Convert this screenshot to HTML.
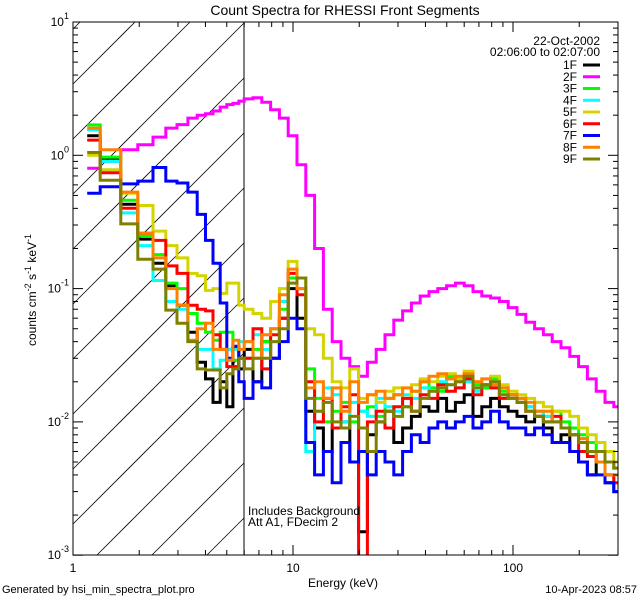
<!DOCTYPE html>
<html><head><meta charset="utf-8"><style>
html,body{margin:0;padding:0;background:#fff;width:640px;height:600px;overflow:hidden;}
svg{display:block;font-family:"Liberation Sans","DejaVu Sans",sans-serif;}
</style></head><body>
<svg id="chart" width="640" height="600" viewBox="0 0 640 600" overflow="hidden">
<defs><clipPath id="plotclip"><rect x="73" y="22" width="545" height="533"/></clipPath></defs>
<rect x="0" y="0" width="640" height="600" fill="#fff"/>
<text x="345" y="15" font-size="14" text-anchor="middle">Count Spectra for RHESSI Front Segments</text>
<g id="hatch"></g>
<line x1="244" y1="22" x2="244" y2="555" stroke="#000" stroke-width="1"/>
<g id="series" clip-path="url(#plotclip)"></g>
<g id="axes"></g>
<text x="343" y="587" font-size="12" text-anchor="middle">Energy (keV)</text>
<text transform="translate(36,290) rotate(-90)" font-size="12" text-anchor="middle">counts cm<tspan font-size="9" dy="-5">-2</tspan><tspan dy="5"> s</tspan><tspan font-size="9" dy="-5">-1</tspan><tspan dy="5"> keV</tspan><tspan font-size="9" dy="-5">-1</tspan></text>
<text x="248" y="515" font-size="12">Includes Background</text>
<text x="248" y="526" font-size="12">Att A1, FDecim 2</text>
<text x="2" y="593" font-size="11">Generated by hsi_min_spectra_plot.pro</text>
<text x="637" y="593" font-size="11" text-anchor="end">10-Apr-2023 08:57</text>
<text x="600" y="45" font-size="12" text-anchor="end">22-Oct-2002</text>
<text x="600" y="56" font-size="12" text-anchor="end">02:06:00 to 02:07:00</text>
<g id="legend"></g>
</svg>
<script>
const names = ["1F","2F","3F","4F","5F","6F","7F","8F","9F"];
const colors = ["#000000","#ff00ff","#00ff00","#00ffff","#d4d400","#ff0000","#0000ff","#ff8000","#808000"];
const lowEdges = [1.16,1.33,1.65,1.97,2.31,2.64,2.97,3.33,3.67,4.0,4.33,4.67,5.0,5.33,5.67,6.0];
const s1F = [1.4,0.95,0.43,0.235,0.155,0.105,0.075,0.047,0.028,0.021,0.014,0.02,0.013,0.036,0.025,
 0.035,0.02,0.04,0.03,0.06,0.1,0.06,0.012,0.009,0.006,0.009,0.01,0.005,0.0015,0.008,0.01,0.012,0.007,0.009,0.011,0.013,0.012,0.015,0.012,0.014,0.016,0.011,0.013,0.015,0.013,0.012,0.011,0.01,0.011,0.009,0.007,0.008,0.006,0.005,0.004,0.005,0.0035,0.003];
const s2F = [0.8,0.9,1.1,1.2,1.37,1.6,1.7,1.9,2.0,2.05,2.15,2.3,2.4,2.45,2.55,
 2.65,2.7,2.5,2.2,1.9,1.4,0.85,0.5,0.2,0.07,0.04,0.03,0.026,0.022,0.028,0.035,0.045,0.058,0.068,0.078,0.088,0.095,0.1,0.105,0.11,0.105,0.095,0.088,0.085,0.08,0.072,0.064,0.056,0.05,0.045,0.04,0.036,0.031,0.026,0.021,0.017,0.014,0.013];
const s3F = [1.69,0.97,0.46,0.25,0.18,0.11,0.1,0.065,0.055,0.047,0.041,0.047,0.047,0.029,0.03,
 0.03,0.035,0.04,0.05,0.07,0.12,0.1,0.025,0.015,0.01,0.012,0.014,0.01,0.012,0.013,0.011,0.015,0.016,0.013,0.017,0.02,0.018,0.017,0.022,0.02,0.023,0.019,0.018,0.021,0.017,0.015,0.015,0.013,0.012,0.011,0.012,0.01,0.009,0.008,0.007,0.006,0.005,0.0045];
const s4F = [1.55,0.9,0.37,0.21,0.115,0.08,0.07,0.04,0.035,0.035,0.025,0.029,0.035,0.035,0.04,
 0.04,0.045,0.035,0.04,0.08,0.11,0.1,0.006,0.012,0.018,0.016,0.01,0.014,0.012,0.011,0.015,0.013,0.012,0.016,0.015,0.018,0.017,0.02,0.019,0.018,0.02,0.017,0.019,0.018,0.016,0.015,0.014,0.013,0.012,0.011,0.01,0.009,0.008,0.007,0.006,0.005,0.004,0.003];
const s5F = [1.0,0.78,0.52,0.42,0.27,0.21,0.17,0.13,0.125,0.097,0.1,0.092,0.11,0.11,0.075,
 0.07,0.065,0.06,0.08,0.1,0.16,0.12,0.05,0.045,0.03,0.02,0.018,0.025,0.015,0.016,0.014,0.017,0.018,0.015,0.019,0.021,0.02,0.022,0.023,0.021,0.024,0.02,0.021,0.022,0.019,0.017,0.016,0.015,0.014,0.013,0.012,0.012,0.011,0.009,0.008,0.007,0.006,0.005];
const s6F = [1.3,0.74,0.40,0.26,0.23,0.148,0.13,0.075,0.07,0.068,0.045,0.035,0.026,0.026,0.03,
 0.03,0.05,0.025,0.045,0.06,0.13,0.09,0.02,0.01,0.015,0.009,0.013,0.016,0.0008,0.01,0.012,0.009,0.013,0.015,0.012,0.016,0.015,0.019,0.017,0.018,0.021,0.016,0.019,0.018,0.015,0.016,0.014,0.012,0.011,0.01,0.011,0.009,0.008,0.006,0.0055,0.005,0.004,0.0035];
const s7F = [0.52,0.58,0.61,0.64,0.81,0.64,0.62,0.53,0.36,0.23,0.155,0.078,0.03,0.037,0.02,
 0.015,0.02,0.018,0.03,0.04,0.06,0.05,0.007,0.004,0.006,0.0035,0.007,0.005,0.006,0.004,0.006,0.005,0.004,0.006,0.008,0.007,0.009,0.01,0.009,0.01,0.011,0.009,0.01,0.012,0.01,0.009,0.009,0.008,0.009,0.008,0.007,0.007,0.006,0.005,0.004,0.004,0.0035,0.003];
const s8F = [1.6,1.1,0.53,0.26,0.17,0.1,0.075,0.041,0.05,0.055,0.035,0.035,0.029,0.041,0.035,
 0.04,0.03,0.045,0.05,0.09,0.14,0.1,0.018,0.02,0.015,0.018,0.012,0.02,0.014,0.016,0.017,0.015,0.016,0.018,0.017,0.02,0.022,0.023,0.021,0.022,0.023,0.02,0.021,0.019,0.018,0.016,0.015,0.014,0.012,0.012,0.01,0.009,0.008,0.0075,0.006,0.005,0.004,0.004];
const s9F = [1.05,0.65,0.306,0.166,0.14,0.069,0.055,0.04,0.025,0.0245,0.0245,0.018,0.023,0.025,0.03,
 0.025,0.03,0.03,0.04,0.05,0.11,0.12,0.015,0.012,0.014,0.01,0.009,0.011,0.009,0.006,0.01,0.012,0.011,0.013,0.012,0.015,0.017,0.018,0.019,0.02,0.022,0.018,0.019,0.02,0.016,0.015,0.014,0.012,0.011,0.01,0.01,0.009,0.008,0.007,0.006,0.006,0.005,0.0045];
const seriesData = [s1F,s2F,s3F,s4F,s5F,s6F,s7F,s8F,s9F];
const yTickExps = [1,0,-1,-2,-3];
const xTickLabels = ["1","10","100"];

const NS="http://www.w3.org/2000/svg";
const X0=73, DEC=220, YTOP=22, YDEC=133.3, YBOT=555, XR=618, XH=244;
function xs(e){return X0+DEC*Math.log10(e);}
function ys(v){return YTOP+YDEC*(1-Math.log10(Math.max(v,1e-4)));}
function mk(tag,attrs,parent){const e=document.createElementNS(NS,tag);for(const k in attrs)e.setAttribute(k,attrs[k]);parent.appendChild(e);return e;}

const edges = lowEdges.slice();
for(let k=1;k<=43;k++) edges.push(Math.pow(10,Math.log10(6)+0.04*k));

// hatch: lines y = c - (x - X0), clipped analytically to the box [X0,XH]x[YTOP,YBOT]
const hatch=document.getElementById('hatch');
for(let n=-1;n<13;n++){
  const c=84+55*n;
  let xa=X0, xb=XH;
  xa=Math.max(xa, X0+c-YBOT);
  xb=Math.min(xb, X0+c-YTOP);
  if(xb<=xa) continue;
  const l=mk('line',{x1:xa,y1:c-(xa-X0),x2:xb,y2:c-(xb-X0),stroke:'#000','stroke-width':0.8},hatch);
  
  
}

const sg=document.getElementById('series');
seriesData.forEach((vals,si)=>{
  let d='';
  vals.forEach((v,i)=>{
    const x1=xs(edges[i]),x2=Math.min(xs(edges[i+1]),XR+2),y=Math.min(ys(v),YBOT+3);
    d+=(i===0?'M':'L')+x1.toFixed(1)+','+y.toFixed(1)+'L'+x2.toFixed(1)+','+y.toFixed(1);
  });
  const p=mk('path',{d:d,fill:'none',stroke:colors[si],'stroke-width':3,'stroke-linejoin':'miter'},sg);
  
  
});

const ax=document.getElementById('axes');
const fr=mk('rect',{x:X0,y:YTOP,width:XR-X0,height:YBOT-YTOP,fill:'none',stroke:'#000','stroke-width':1},ax);


yTickExps.forEach(ex=>{
  for(let m=1;m<10;m++){
    const v=Math.pow(10,ex)*m; if(v>10.001)break;
    const y=ys(v); const len=m===1?10:5;
    const t1=mk('line',{x1:X0,y1:y,x2:X0+len,y2:y,stroke:'#000'},ax);
    
    
    const t2=mk('line',{x1:XR,y1:y,x2:XR-len,y2:y,stroke:'#000'},ax);
    
    
  }
  const t=mk('text',{x:X0-4,y:ys(Math.pow(10,ex))+4,'font-size':12,'text-anchor':'end'},ax);
  
  
  const b=mk('tspan',{},t);b.textContent='10';
  const s=mk('tspan',{'font-size':9,dy:-7},t);s.textContent=String(ex);
});
[1,10,100].forEach((dec,di)=>{
  for(let m=1;m<10;m++){
    const e=dec*m; const x=xs(e); if(x>XR+0.5)break;
    const len=m===1?10:5;
    const t1=mk('line',{x1:x,y1:YBOT,x2:x,y2:YBOT-len,stroke:'#000'},ax);
    
    
    const t2=mk('line',{x1:x,y1:YTOP,x2:x,y2:YTOP+len,stroke:'#000'},ax);
    
    
  }
  const t=mk('text',{x:xs(dec),y:YBOT+17,'font-size':12,'text-anchor':'middle'},ax);
  
  
  t.textContent=xTickLabels[di];
});

const lg=document.getElementById('legend');
names.forEach((n,i)=>{
  const y=65+11.75*i;
  const t=mk('text',{x:577,y:y+4,'font-size':12,'text-anchor':'end'},lg);
  
  
  t.textContent=n;
  const l=mk('line',{x1:583,y1:y,x2:600,y2:y,stroke:colors[i],'stroke-width':3},lg);
  
  
});
</script>
</body></html>
